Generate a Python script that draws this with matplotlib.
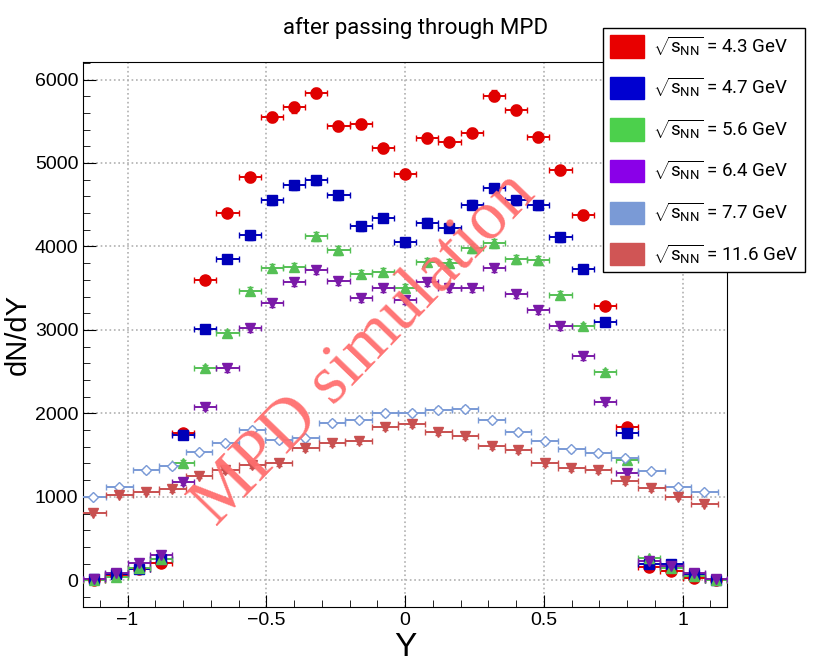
import numpy as np
import matplotlib
matplotlib.use("Agg")
import matplotlib.pyplot as plt
from matplotlib.patches import Patch
from matplotlib.ticker import MultipleLocator

plt.rcParams['font.family'] = ['Liberation Sans', 'DejaVu Sans']
plt.rcParams['mathtext.fontset'] = 'custom'
plt.rcParams['mathtext.rm'] = 'Roboto'
plt.rcParams['mathtext.it'] = 'Roboto'

# rapidity bins (0.08 wide) for the four lowest energies
y_fine = [-1.12, -1.04, -0.96, -0.88, -0.80, -0.72, -0.64, -0.56, -0.48, -0.40,
          -0.32, -0.24, -0.16, -0.08, 0.0, 0.08, 0.16, 0.24, 0.32, 0.40,
          0.48, 0.56, 0.64, 0.72, 0.80, 0.88, 0.96, 1.04, 1.12]
# rapidity bins (~0.096 wide) for 7.7 and 11.6 GeV
y_coarse = [-1.126, -1.030, -0.934, -0.838, -0.743, -0.647, -0.551, -0.455,
            -0.359, -0.263, -0.167, -0.072, 0.024, 0.120, 0.216, 0.312,
            0.407, 0.503, 0.599, 0.695, 0.791, 0.887, 0.983, 1.078]

dndy_43 = [5, 60, 140, 210, 1760, 3593, 4400, 4826, 5550, 5665, 5840, 5445, 5465,
           5174, 4870, 5295, 5257, 5365, 5808, 5635, 5310, 4910, 4380, 3287, 1832,
           160, 110, 25, 0]
dndy_47 = [10, 70, 135, 250, 1740, 3007, 3850, 4133, 4552, 4732, 4792, 4612, 4241,
           4340, 4049, 4283, 4223, 4499, 4696, 4552, 4493, 4109, 3732, 3096, 1761,
           200, 200, 80, 5]
dndy_56 = [5, 40, 150, 260, 1410, 2540, 2959, 3462, 3737, 3749, 4121, 3953, 3665,
           3689, 3497, 3810, 3800, 3977, 4037, 3845, 3833, 3414, 3043, 2492, 1437,
           270, 150, 50, 5]
dndy_64 = [15, 90, 210, 300, 1174, 2073, 2540, 3019, 3318, 3570, 3713, 3582, 3378,
           3497, 3354, 3570, 3497, 3500, 3737, 3426, 3234, 3043, 2684, 2133, 1282,
           230, 170, 90, 10]
dndy_77 = [995, 1114, 1318, 1366, 1533, 1641, 1797, 1677, 1701, 1881, 1916, 2000,
           2000, 2037, 2049, 1917, 1773, 1665, 1569, 1521, 1461, 1306, 1114, 1054]
dndy_116 = [803, 1018, 1054, 1090, 1250, 1318, 1378, 1402, 1581, 1641, 1665, 1833,
            1869, 1773, 1725, 1605, 1557, 1402, 1342, 1318, 1186, 1102, 995, 911]

energies = ['4.3', '4.7', '5.6', '6.4', '7.7', '11.6']
legend_colors = ['#e80000', '#0000d0', '#4cd04c', '#8a00e8', '#7a9ad6', '#d05555']

fig = plt.figure(figsize=(8.15, 6.63), dpi=100)
ax = fig.add_axes([0.102, 0.0845, 0.790, 0.822])

series = [
    (y_fine, dndy_43, '#e00000', 'o', 'full', 0.04),
    (y_fine, dndy_47, '#0000b8', 's', 'full', 0.04),
    (y_fine, dndy_56, '#55c055', '^', 'full', 0.04),
    (y_fine, dndy_64, '#7a1aa8', 'v', 'full', 0.04),
    (y_coarse, dndy_77, '#7a9ad6', 'D', 'none', 0.048),
    (y_coarse, dndy_116, '#c85050', 'v', 'full', 0.048),
]
for x, v, c, m, fill, hw in series:
    v = np.array(v, dtype=float)
    ax.errorbar(x, v, xerr=hw, yerr=np.sqrt(v + 1) * 0.8, fmt=m, color=c,
                mfc=c if fill == 'full' else 'white', mec=c,
                ms=8 if m == 'o' else (5 if m == 'D' else 7),
                elinewidth=1.4, capsize=2, capthick=1.0, zorder=3)

ax.set_xlim(-1.16, 1.16)
ax.set_ylim(-320, 6210)
ax.xaxis.set_major_locator(MultipleLocator(0.5))
ax.xaxis.set_minor_locator(MultipleLocator(0.1))
ax.yaxis.set_major_locator(MultipleLocator(1000))
ax.yaxis.set_minor_locator(MultipleLocator(200))
ax.tick_params(which='both', direction='in', labelsize=14)
ax.tick_params(which='major', length=9)
ax.tick_params(which='minor', length=5)
ax.grid(True, which='major', color='#b0b0b0', linestyle=':', linewidth=1.2)
ax.set_axisbelow(True)
ax.set_xticks([-1, -0.5, 0, 0.5, 1])
ax.set_xticklabels(['\u22121', '\u22120.5', '0', '0.5', '1'])

ax.set_xlabel('Y', fontsize=24, labelpad=2)
ax.set_ylabel('dN/dY', fontsize=21)
ax.yaxis.set_label_coords(-0.08, 0.5)

fig.text(0.51, 0.958, 'after passing through MPD', fontsize=16, ha='center', va='center',
         family=['Roboto', 'DejaVu Sans'])

handles = [Patch(facecolor=c, edgecolor=c) for c in legend_colors]
labels = [r'$\sqrt{\mathrm{s}_{\mathrm{NN}}}$ = %s GeV' % e for e in energies]
fig.legend(handles, labels, loc='upper right', bbox_to_anchor=(0.988, 0.958),
           prop={'family': ['Roboto', 'DejaVu Sans'], 'size': 13.5},
           frameon=True, fancybox=False, edgecolor='black',
           framealpha=1.0, handlelength=1.8, handleheight=1.45, labelspacing=0.98,
           borderpad=0.35, handletextpad=0.5, borderaxespad=0.0)

fig.text(0.448, 0.472, 'MPD simulation', fontsize=50, color='#ff6e6e',
         family=['Liberation Serif', 'DejaVu Serif'], rotation=46,
         ha='center', va='center', alpha=0.95, zorder=10)

fig.savefig('out.png', dpi=100)
